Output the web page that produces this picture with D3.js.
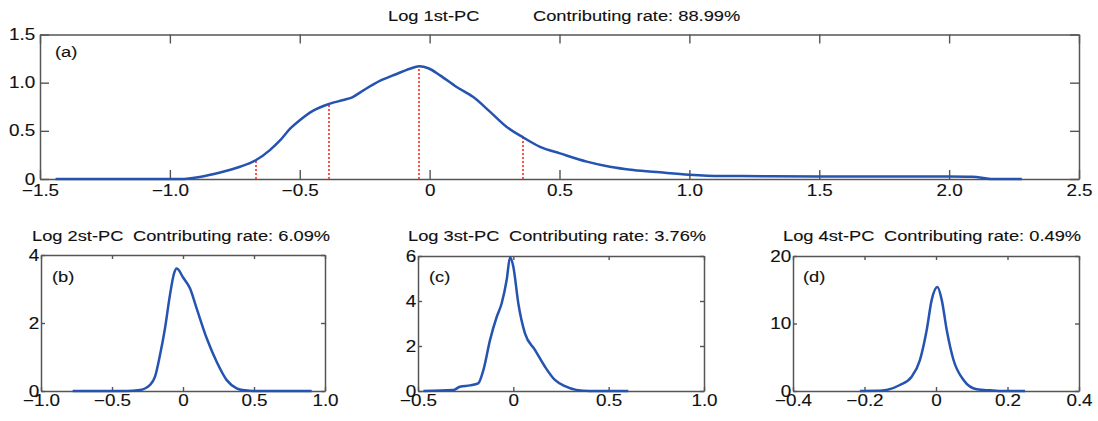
<!DOCTYPE html>
<html>
<head>
<meta charset="utf-8">
<script src="https://cdn.jsdelivr.net/npm/d3@7"></script>
<style>
  body { margin: 0; background: #fff; }
  svg text { font-family: "Liberation Sans", Arial, sans-serif; fill: #111; stroke: #111; stroke-width: 0.12px; }
</style>
</head>
<body>
<svg id="chart" width="1098" height="421"></svg>
<script>
// values
const pc1X = [-1.44, -0.96, -0.88, -0.81, -0.73, -0.668, -0.615, -0.576, -0.538, -0.50, -0.448, -0.386, -0.332, -0.30, -0.255, -0.19, -0.127, -0.076, -0.04, -0.005, 0.04, 0.104, 0.168, 0.232, 0.297, 0.361, 0.425, 0.502, 0.605, 0.694, 0.784, 0.887, 1.00, 1.12, 1.20, 1.50, 2.00, 2.09, 2.16, 2.28];
const pc1Y = [0, 0, 0.024, 0.065, 0.127, 0.197, 0.30, 0.40, 0.52, 0.61, 0.71, 0.78, 0.82, 0.845, 0.92, 1.02, 1.09, 1.145, 1.17, 1.15, 1.076, 0.955, 0.85, 0.70, 0.54, 0.43, 0.334, 0.266, 0.18, 0.127, 0.093, 0.069, 0.045, 0.031, 0.030, 0.026, 0.025, 0.024, 0, 0];
// red dotted markers under the first curve
const markX = [-0.668, -0.386, -0.041, 0.361];
const markY = [0.197, 0.78, 1.17, 0.43];

const pc2X = [-0.777, -0.40, -0.303, -0.232, -0.197, -0.162, -0.127, -0.092, -0.063, -0.044, 0.002, 0.049, 0.096, 0.167, 0.237, 0.308, 0.378, 0.437, 0.50, 0.906];
const pc2Y = [0, 0, 0.03, 0.18, 0.42, 1.06, 1.84, 2.82, 3.46, 3.60, 3.33, 3.02, 2.43, 1.55, 0.86, 0.32, 0.08, 0.02, 0, 0];

const pc3X = [-0.472, -0.316, -0.280, -0.227, -0.184, -0.157, -0.122, -0.087, -0.061, -0.035, -0.017, 0.000, 0.026, 0.061, 0.114, 0.166, 0.218, 0.271, 0.33, 0.40, 0.603];
const pc3Y = [0, 0.04, 0.19, 0.25, 0.34, 0.93, 2.27, 3.30, 3.90, 4.93, 5.94, 5.52, 3.90, 2.56, 1.82, 1.08, 0.49, 0.22, 0.05, 0, 0];

const pc4X = [-0.213, -0.16, -0.138, -0.101, -0.068, -0.045, -0.026, -0.012, 0.004, 0.016, 0.030, 0.049, 0.077, 0.114, 0.151, 0.19, 0.249];
const pc4Y = [0, 0.02, 0.15, 0.89, 2.12, 4.59, 9.04, 13.5, 15.4, 13.5, 9.04, 4.59, 1.63, 0.25, 0.1, 0, 0];

const names = ["Log 1st-PC", "Log 2st-PC", "Log 3st-PC", "Log 4st-PC"];
const rates = ["Contributing rate: 88.99%", "Contributing rate: 6.09%", "Contributing rate: 3.76%", "Contributing rate: 0.49%"];
const tags = ["(a)", "(b)", "(c)", "(d)"];

const xTicks1 = [-1.5, -1.0, -0.5, 0, 0.5, 1.0, 1.5, 2.0, 2.5];
const yTicks1 = [0, 0.5, 1.0, 1.5];
const xTicks2 = [-1.0, -0.5, 0, 0.5, 1.0];
const yTicks2 = [0, 2, 4];
const xTicks3 = [-0.5, 0, 0.5, 1.0];
const yTicks3 = [0, 2, 4, 6];
const xTicks4 = [-0.4, -0.2, 0, 0.2, 0.4];
const yTicks4 = [0, 10, 20];

const svg = d3.select('#chart');
const SX = 1.18;   // the figure's text is stretched sideways
const blue = '#2453b0';
const axisGrey = '#555';

const dec1 = d => d === 0 ? '0' : d3.format('.1f')(d);
const intf = d3.format('d');

// panel boxes (pixels)
const panels = [
  { xs: pc1X, ys: pc1Y, xd: [-1.5, 2.5], yd: [0, 1.5], xt: xTicks1, yt: yTicks1, xf: dec1, yf: dec1,
    left: 40, right: 1079, top: 34.5, bottom: 179, tick: 9, padX: 6, padY: 4,
    title: [388, 533, 21], tag: [55, 57] },
  { xs: pc2X, ys: pc2Y, xd: [-1, 1], yd: [0, 4], xt: xTicks2, yt: yTicks2, xf: dec1, yf: intf,
    left: 41, right: 325, top: 255, bottom: 391, tick: 4, padX: 4, padY: 1.5,
    title: [32, 133, 241], tag: [52, 282] },
  { xs: pc3X, ys: pc3Y, xd: [-0.5, 1], yd: [0, 6], xt: xTicks3, yt: yTicks3, xf: dec1, yf: intf,
    left: 418, right: 704, top: 256, bottom: 391, tick: 4, padX: 4, padY: 1.5,
    title: [408, 509, 241], tag: [429, 282] },
  { xs: pc4X, ys: pc4Y, xd: [-0.4, 0.4], yd: [0, 20], xt: xTicks4, yt: yTicks4, xf: dec1, yf: intf,
    left: 793, right: 1079, top: 256, bottom: 391, tick: 4, padX: 4, padY: 1.5,
    title: [783, 884, 241], tag: [803, 282] }
];

function styleAxis(sel) {
  sel.select('.domain').attr('stroke', axisGrey).attr('stroke-width', 1.5);
  sel.selectAll('.tick line').attr('stroke', axisGrey).attr('stroke-width', 1.4);
  sel.selectAll('.tick text')
    .attr('font-size', 16)
    .attr('fill', '#111')
    .attr('transform', `scale(${SX},1)`);
}

function drawPanel(p, i) {
  const x = d3.scaleLinear().domain(p.xd).range([p.left, p.right]);
  const y = d3.scaleLinear().domain(p.yd).range([p.bottom, p.top]);
  const g = svg.append('g');

  // box axes, ticks pointing inwards on all four sides
  g.append('g').attr('transform', `translate(0,${p.bottom})`)
    .call(d3.axisBottom(x).tickValues(p.xt).tickFormat(p.xf).tickSizeInner(-p.tick).tickSizeOuter(0).tickPadding(p.padX))
    .call(styleAxis);
  g.append('g').attr('transform', `translate(0,${p.top})`)
    .call(d3.axisTop(x).tickValues(p.xt).tickFormat('').tickSizeInner(-p.tick).tickSizeOuter(0))
    .call(styleAxis);
  g.append('g').attr('transform', `translate(${p.left},0)`)
    .call(d3.axisLeft(y).tickValues(p.yt).tickFormat(p.yf).tickSizeInner(-p.tick).tickSizeOuter(0).tickPadding(p.padY))
    .call(styleAxis);
  g.append('g').attr('transform', `translate(${p.right},0)`)
    .call(d3.axisRight(y).tickValues(p.yt).tickFormat('').tickSizeInner(-p.tick).tickSizeOuter(0))
    .call(styleAxis);

  // red dotted quartile lines (first panel only)
  if (i === 0) {
    g.selectAll('line.mark')
      .data(markX)
      .join('line')
      .attr('class', 'mark')
      .attr('x1', d => Math.round(x(d))).attr('x2', d => Math.round(x(d)))
      .attr('y1', y(0))
      .attr('y2', (d, k) => y(markY[k]))
      .attr('stroke', '#ff5050')
      .attr('stroke-width', 2)
      .attr('stroke-dasharray', '2,2');
  }

  // the density curve
  const line = d3.line()
    .x((d, k) => x(p.xs[k]))
    .y(d => y(d))
    .curve(d3.curveMonotoneX);
  g.append('path')
    .datum(p.ys)
    .attr('d', line)
    .attr('fill', 'none')
    .attr('stroke', blue)
    .attr('stroke-width', 2.5)
    .attr('stroke-linejoin', 'round');

  // titles and panel tag
  const fs = 15.5;
  g.append('text').text(names[i]).attr('font-size', fs)
    .attr('transform', `translate(${p.title[0]},${p.title[2]}) scale(${SX},1)`);
  g.append('text').text(rates[i]).attr('font-size', fs)
    .attr('transform', `translate(${p.title[1]},${p.title[2]}) scale(${SX},1)`);
  g.append('text').text(tags[i]).attr('font-size', fs)
    .attr('transform', `translate(${p.tag[0]},${p.tag[1]}) scale(${SX},1)`);
}

panels.forEach(drawPanel);
</script>
</body>
</html>
